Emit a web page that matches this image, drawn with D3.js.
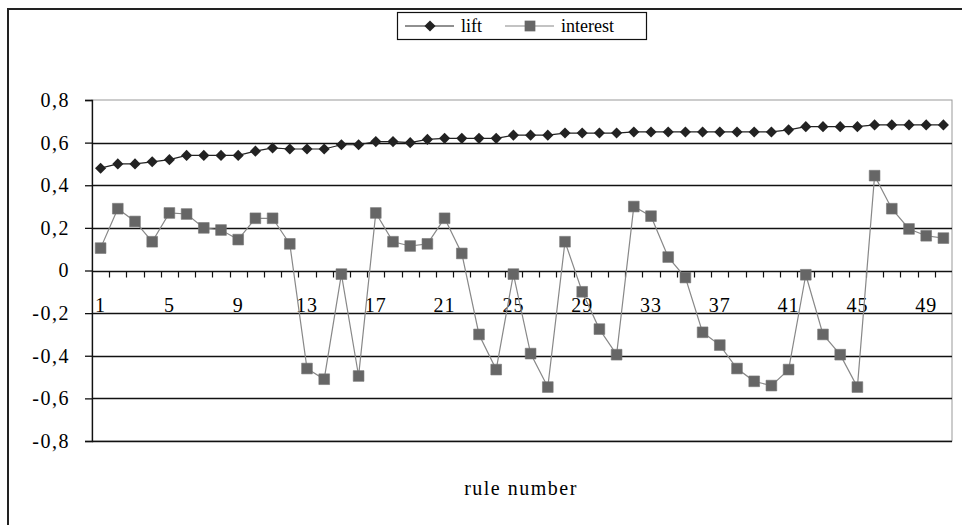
<!DOCTYPE html>
<html>
<head>
<meta charset="utf-8">
<script src="https://cdnjs.cloudflare.com/ajax/libs/d3/7.8.5/d3.min.js"></script>
<style>
  body { margin: 0; background: #fff; }
  text { font-family: 'Liberation Serif', 'Times New Roman', serif; fill: #000; }
</style>
</head>
<body>
<div class="ruleChart"></div>
<script>
// data
var ruleNumbers = [1, 2, 3, 4, 5, 6, 7, 8, 9, 10, 11, 12, 13, 14, 15, 16, 17, 18, 19, 20,
                   21, 22, 23, 24, 25, 26, 27, 28, 29, 30, 31, 32, 33, 34, 35, 36, 37, 38, 39, 40,
                   41, 42, 43, 44, 45, 46, 47, 48, 49, 50];
var lift = [0.48, 0.50, 0.50, 0.51, 0.52, 0.54, 0.54, 0.54, 0.54, 0.56,
            0.575, 0.57, 0.57, 0.57, 0.59, 0.59, 0.605, 0.605, 0.60, 0.615,
            0.62, 0.62, 0.62, 0.62, 0.635, 0.635, 0.635, 0.645, 0.645, 0.645,
            0.645, 0.65, 0.65, 0.65, 0.65, 0.65, 0.65, 0.65, 0.65, 0.65,
            0.66, 0.675, 0.675, 0.675, 0.675, 0.683, 0.683, 0.683, 0.683, 0.683];
var interest = [0.105, 0.29, 0.23, 0.135, 0.27, 0.265, 0.20, 0.19, 0.145, 0.245,
                0.245, 0.125, -0.46, -0.51, -0.017, -0.495, 0.27, 0.135, 0.115, 0.125,
                0.245, 0.08, -0.30, -0.465, -0.017, -0.39, -0.547, 0.135, -0.10, -0.275,
                -0.395, 0.30, 0.255, 0.063, -0.033, -0.29, -0.35, -0.46, -0.52, -0.54,
                -0.465, -0.02, -0.30, -0.395, -0.547, 0.445, 0.29, 0.195, 0.163, 0.152];
var yTicks = [-0.8, -0.6, -0.4, -0.2, 0, 0.2, 0.4, 0.6, 0.8];
var xLabels = [1, 5, 9, 13, 17, 21, 25, 29, 33, 37, 41, 45, 49];
var seriesNames = ['lift', 'interest'];

const width = 962;
const height = 525;
var plot = {left: 92, right: 952, top: 100, bottom: 441};

var svg = d3.select('.ruleChart')
            .append('svg')
            .attr('width', width)
            .attr('height', height);

// outer frame (runs off the picture on the right and bottom)
svg.append('rect')
    .attr('x', 8)
    .attr('y', 9)
    .attr('width', 1000)
    .attr('height', 600)
    .attr('fill', 'none')
    .attr('stroke', '#222')
    .attr('stroke-width', 2);

var x = d3.scaleBand()
          .domain(ruleNumbers)
          .range([plot.left, plot.right]);

var y = d3.scaleLinear()
          .domain([-0.8, 0.8])
          .range([plot.bottom, plot.top]);

var fmt = d => d === 0 ? '0' : d.toFixed(1).replace('.', ',');

// plot area border
svg.append('rect')
    .attr('x', plot.left)
    .attr('y', plot.top)
    .attr('width', plot.right - plot.left)
    .attr('height', plot.bottom - plot.top)
    .attr('fill', 'none')
    .attr('stroke', '#999')
    .attr('stroke-width', 1);

// gridlines
svg.append('g')
    .selectAll('line')
    .data(yTicks.filter(d => d < 0.8))
    .enter()
    .append('line')
    .attr('x1', plot.left)
    .attr('x2', plot.right)
    .attr('y1', d => Math.round(y(d)) + 0.5)
    .attr('y2', d => Math.round(y(d)) + 0.5)
    .attr('stroke', '#111')
    .attr('stroke-width', 1.3);

// y axis
var yAxis = svg.append('g')
    .attr('transform', `translate(${plot.left}, 0)`)
    .call(d3.axisLeft(y).tickValues(yTicks).tickFormat(fmt).tickSize(7).tickPadding(15));
yAxis.select('.domain').attr('stroke', '#111').attr('stroke-width', 1.3);
yAxis.selectAll('.tick line').attr('stroke', '#111').attr('stroke-width', 1.3);
yAxis.selectAll('text')
    .style('font-family', "'Liberation Serif', serif")
    .style('font-size', '20px')
    .style('letter-spacing', '1.5px');

// x axis sits on zero: small ticks between categories
var y0 = Math.round(y(0)) + 0.5;
svg.append('g')
    .selectAll('line')
    .data(ruleNumbers.slice(1))
    .enter()
    .append('line')
    .attr('x1', d => Math.round(x(d)) + 0.5)
    .attr('x2', d => Math.round(x(d)) + 0.5)
    .attr('y1', y0)
    .attr('y2', y0 + 6)
    .attr('stroke', '#111')
    .attr('stroke-width', 1.2);

svg.append('g')
    .selectAll('text')
    .data(xLabels)
    .enter()
    .append('text')
    .attr('x', d => x(d) + x.bandwidth() / 2)
    .attr('y', y(0) + 41)
    .attr('text-anchor', 'middle')
    .style('font-size', '20px')
    .style('letter-spacing', '1px')
    .text(d => d);

// axis title
svg.append('text')
    .attr('x', 521)
    .attr('y', 495)
    .attr('text-anchor', 'middle')
    .style('font-size', '20px')
    .style('letter-spacing', '1.5px')
    .text('rule number');

var cx = d => x(d) + x.bandwidth() / 2;

// interest series
var seriesLine = d3.line()
    .x((d, i) => cx(ruleNumbers[i]))
    .y(d => y(d));

svg.append('path')
    .datum(interest)
    .attr('d', seriesLine)
    .attr('fill', 'none')
    .attr('stroke', '#888')
    .attr('stroke-width', 1.2);

svg.append('g')
    .selectAll('path')
    .data(interest)
    .enter()
    .append('path')
    .attr('d', d3.symbol().type(d3.symbolSquare).size(115))
    .attr('transform', (d, i) => `translate(${cx(ruleNumbers[i])}, ${y(d)})`)
    .attr('fill', '#666')
    .attr('stroke', '#777')
    .attr('stroke-width', 0.6);

// lift series
svg.append('path')
    .datum(lift)
    .attr('d', seriesLine)
    .attr('fill', 'none')
    .attr('stroke', '#222')
    .attr('stroke-width', 1.2);

svg.append('g')
    .selectAll('path')
    .data(lift)
    .enter()
    .append('path')
    .attr('d', d3.symbol().type(d3.symbolSquare).size(62))
    .attr('transform', (d, i) => `translate(${cx(ruleNumbers[i])}, ${y(d)}) rotate(45)`)
    .attr('fill', '#222');

// legend
var legend = svg.append('g').attr('class', 'legend');
legend.append('rect')
    .attr('x', 397.5)
    .attr('y', 12.5)
    .attr('width', 249)
    .attr('height', 27)
    .attr('fill', '#fff')
    .attr('stroke', '#111')
    .attr('stroke-width', 1.2);

var legendItems = legend.selectAll('.item')
    .data(seriesNames)
    .enter()
    .append('g')
    .attr('class', 'item')
    .attr('transform', (d, i) => `translate(${405 + i * 100}, 26)`);

legendItems.append('line')
    .attr('x1', 0)
    .attr('x2', 49)
    .attr('stroke', (d, i) => i === 0 ? '#222' : '#888')
    .attr('stroke-width', 1.2);

legendItems.append('path')
    .attr('d', (d, i) => d3.symbol().type(d3.symbolSquare).size(i === 0 ? 62 : 115)())
    .attr('transform', (d, i) => i === 0 ? 'translate(25, 0) rotate(45)' : 'translate(25, 0)')
    .attr('fill', (d, i) => i === 0 ? '#222' : '#666');

legendItems.append('text')
    .attr('x', 56)
    .attr('y', 6)
    .style('font-size', '18px')
    .text(d => d);
</script>
</body>
</html>
